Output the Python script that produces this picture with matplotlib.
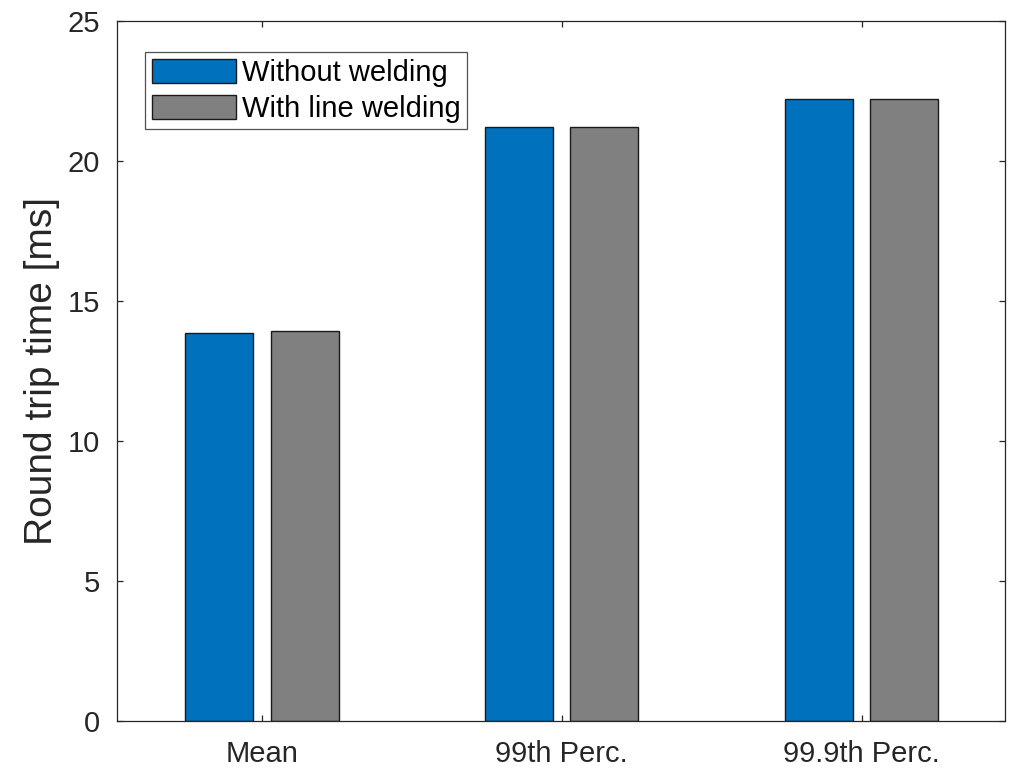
import matplotlib.pyplot as plt
import numpy as np

plt.rcParams['font.family'] = ['Liberation Sans', 'DejaVu Sans']

categories = ['Mean', '99th Perc.', '99.9th Perc.']
without_welding = [13.88, 21.2, 22.2]
with_line_welding = [13.93, 21.2, 22.2]

x = np.arange(1, len(categories) + 1)
w = 0.227
off = 0.1425

fig = plt.figure(figsize=(10.13, 7.69), dpi=100)
ax = fig.add_axes([0.1155, 0.0618, 0.8765, 0.911])

ax.bar(x - off, without_welding, w, color='#0072BD', edgecolor='#1a1a1a',
       linewidth=1.0, label='Without welding')
ax.bar(x + off, with_line_welding, w, color='#808080', edgecolor='#1a1a1a',
       linewidth=1.0, label='With line welding')

ax.set_xlim(0.517, 3.478)
ax.set_ylim(0, 25)
ax.set_xticks(x)
ax.set_xticklabels(categories)
ax.set_yticks(np.arange(0, 26, 5))
ax.set_ylabel('Round trip time [ms]', fontsize=28, color='#262626', labelpad=6)

axis_col = '#262626'
for s in ax.spines.values():
    s.set_color(axis_col)
    s.set_linewidth(0.9)
ax.tick_params(direction='in', top=True, right=True, length=4, width=0.9,
               colors=axis_col, labelsize=21)
ax.tick_params(axis='x', pad=13.5)
ax.tick_params(axis='y', pad=12)

leg = ax.legend(loc='upper left', bbox_to_anchor=(0.032, 0.955),
                fontsize=21, frameon=True, fancybox=False,
                handlelength=2.9, handleheight=0.9, handletextpad=0.2,
                borderpad=0.22, labelspacing=0.27, borderaxespad=0)
leg.get_frame().set_edgecolor(axis_col)
leg.get_frame().set_linewidth(0.9)

fig.savefig('out.png', dpi=100)
